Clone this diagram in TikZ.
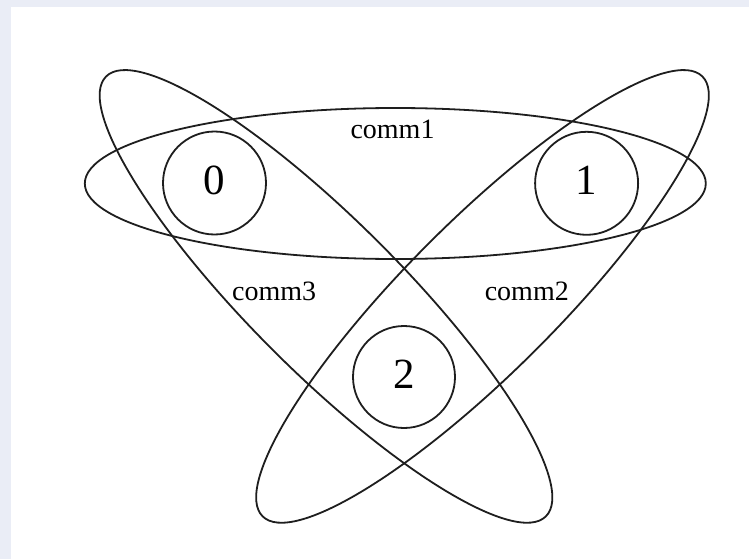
\documentclass[tikz,border=0pt]{standalone}
\usepackage{fontspec}
\setmainfont{Liberation Serif}
\usetikzlibrary{shapes.geometric}
\definecolor{edgebg}{RGB}{234,237,246}
\definecolor{ink}{RGB}{30,30,30}
\begin{document}
\begin{tikzpicture}[x=1pt,y=-1pt,
  setshape/.style={draw=ink, line width=1.8pt, ellipse, inner sep=0pt, minimum width=622pt, minimum height=151pt},
  proc/.style={draw=ink, line width=1.8pt, circle, inner sep=0pt, minimum size=103pt, font=\fontsize{43}{43}\selectfont, text depth=6pt},
  lab/.style={font=\fontsize{28}{28}\selectfont, anchor=base, inner sep=0pt}]
\fill[edgebg] (0,0) rectangle (749,559);
\fill[white] (11,7) rectangle (749,559);
\useasboundingbox (0,0) rectangle (749,559);
% sets
\node[setshape, minimum width=621pt] (e1) at (395.3,183.5) {};
\node[setshape, rotate=-45] (e3) at (326,296.4) {};
\node[setshape, rotate=45] (e2) at (482.5,296.4) {};
% processes
\node[proc] (p0) at (214.5,183) {0};
\node[proc] (p1) at (586.6,183.3) {1};
\node[proc, minimum size=102pt] (p2) at (404,377) {2};
% labels
\node[lab] (l1) at (392.5,138.5) {comm1};
\node[lab] (l3) at (274.2,300) {comm3};
\node[lab] (l2) at (526.8,300) {comm2};
\end{tikzpicture}
\end{document}
